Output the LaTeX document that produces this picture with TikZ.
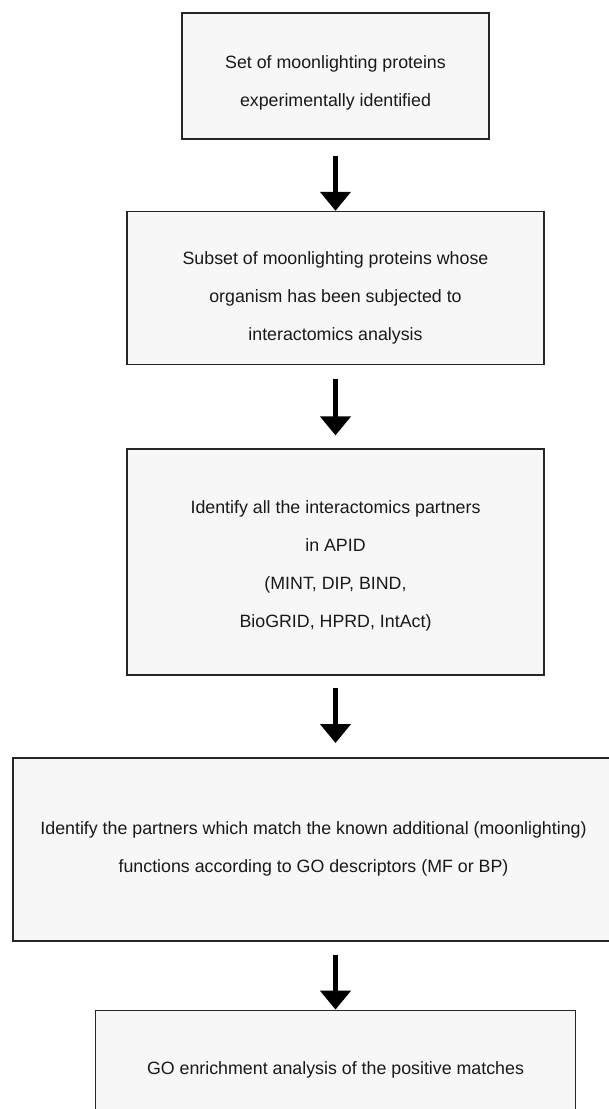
\documentclass[tikz,border=0pt]{standalone}
\usepackage{fontspec}
\setmainfont{Liberation Sans}
\usetikzlibrary{arrows.meta,positioning,calc}

\begin{document}
\begin{tikzpicture}[
  font=\fontsize{17.8}{38}\selectfont,
  node distance=70pt,
  stage/.style={draw=black!85, line width=1.6pt, fill=gray!6, align=center, inner sep=0pt, text=black!90},
  flow/.style={-{Triangle[width=30pt,length=19pt]}, line width=4.5pt}
]
\path[use as bounding box, fill=white] (0,0) rectangle (609pt,-1109pt);

\node[stage, minimum width=307pt, minimum height=126pt] (boxset) at (335.5pt,-76pt)
  {\rule{0pt}{27pt}Set of moonlighting proteins\\experimentally identified};
\node[stage, minimum width=417pt, minimum height=153pt, below=71pt of boxset] (boxsubset)
  {\rule{0pt}{33pt}Subset of moonlighting proteins whose\\organism has been subjected to\\interactomics analysis};
\node[stage, minimum width=417pt, minimum height=226pt, below=83pt of boxsubset] (boxpartners)
  {\rule{0pt}{21pt}Identify all the interactomics partners\\in APID\\(MINT, DIP, BIND,\\BioGRID, HPRD, IntAct)};
\node[stage, minimum width=601pt, minimum height=183pt, below=81pt of boxpartners, xshift=-22pt] (boxmatch)
  {Identify the partners which match the known additional (moonlighting)\\functions according to GO descriptors (MF or BP)};
\node[stage, minimum width=480pt, minimum height=118pt, below=68pt of boxmatch, xshift=22pt] (boxenrich)
  {GO enrichment analysis of the positive matches};

\draw[flow] ([yshift=-16pt]boxset.south) -- (boxsubset.north);
\draw[flow] ([yshift=-14pt]boxsubset.south) -- ([yshift=13pt]boxpartners.north);
\draw[flow] ([yshift=-12pt]boxpartners.south) -- ([yshift=14pt]boxmatch.north -| boxpartners.south);
\draw[flow] ([yshift=-13pt]boxmatch.south -| boxenrich.north) -- (boxenrich.north);
\end{tikzpicture}
\end{document}
